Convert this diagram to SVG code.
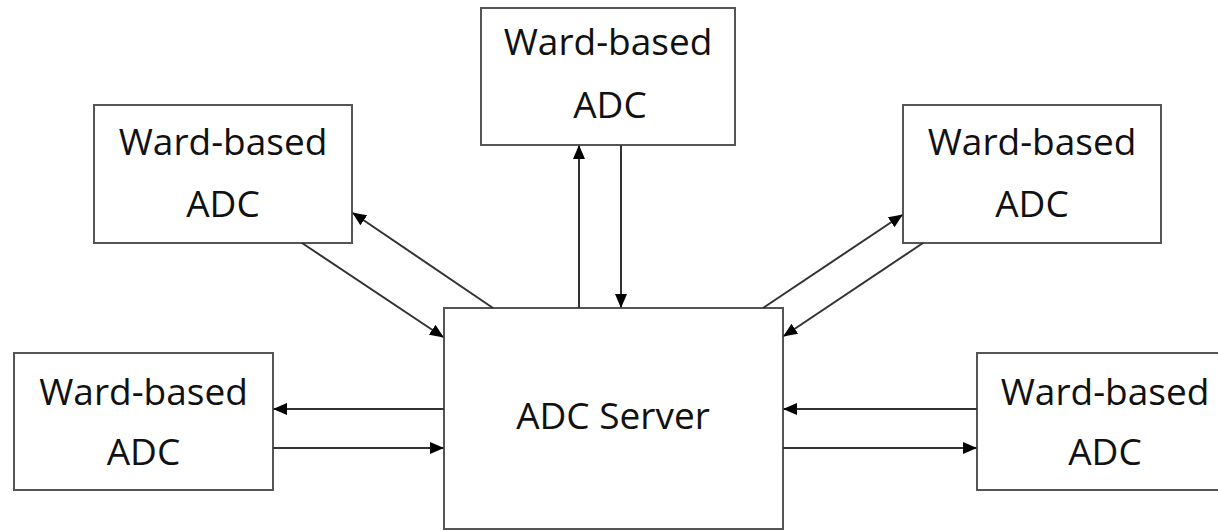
<svg xmlns="http://www.w3.org/2000/svg" width="1218" height="531" viewBox="0 0 1218 531">
<style>
.box{fill:#fff;stroke:#555;stroke-width:2}
.t{font-family:"Open Sans","Liberation Sans",sans-serif;font-size:37px;fill:#111;text-anchor:middle}
.c{stroke:#333;stroke-width:2;fill:none;marker-end:url(#ah)}
</style>
<defs>
<marker id="ah" markerWidth="14" markerHeight="12" refX="13" refY="6" orient="auto" markerUnits="userSpaceOnUse">
<path d="M0,0 L14,6 L0,12 Z" fill="#000"/>
</marker>
</defs>
<rect width="1218" height="531" fill="#fff"/>
<g id="server"><rect class="box" x="444" y="308" width="339" height="221"/><text class="t" x="613" y="429">ADC Server</text></g>
<g id="ward-top"><rect class="box" x="481" y="8" width="254" height="137"/><text class="t" x="608" y="55">Ward-based</text><text class="t" x="610" y="118">ADC</text></g>
<g id="ward-ul"><rect class="box" x="94" y="105" width="258" height="138"/><text class="t" x="223" y="155">Ward-based</text><text class="t" x="223" y="217">ADC</text></g>
<g id="ward-ur"><rect class="box" x="903" y="105" width="258" height="138"/><text class="t" x="1032" y="155">Ward-based</text><text class="t" x="1032" y="217">ADC</text></g>
<g id="ward-bl"><rect class="box" x="14" y="353" width="259" height="137"/><text class="t" x="143.5" y="405">Ward-based</text><text class="t" x="143.5" y="465">ADC</text></g>
<g id="ward-br"><rect class="box" x="977" y="353" width="256" height="137"/><text class="t" x="1105" y="405">Ward-based</text><text class="t" x="1105" y="465">ADC</text></g>
<g id="connectors">
<line class="c" x1="579" y1="308" x2="579" y2="146"/>
<line class="c" x1="621" y1="145" x2="621" y2="307"/>
<line class="c" x1="493" y1="308" x2="353" y2="213"/>
<line class="c" x1="302" y1="243" x2="443" y2="337"/>
<line class="c" x1="763" y1="308" x2="902" y2="215"/>
<line class="c" x1="923" y1="243" x2="784" y2="336"/>
<line class="c" x1="444" y1="409" x2="274" y2="409"/>
<line class="c" x1="273" y1="448" x2="443" y2="448"/>
<line class="c" x1="977" y1="409" x2="784" y2="409"/>
<line class="c" x1="783" y1="448" x2="976" y2="448"/>
</g>
</svg>
